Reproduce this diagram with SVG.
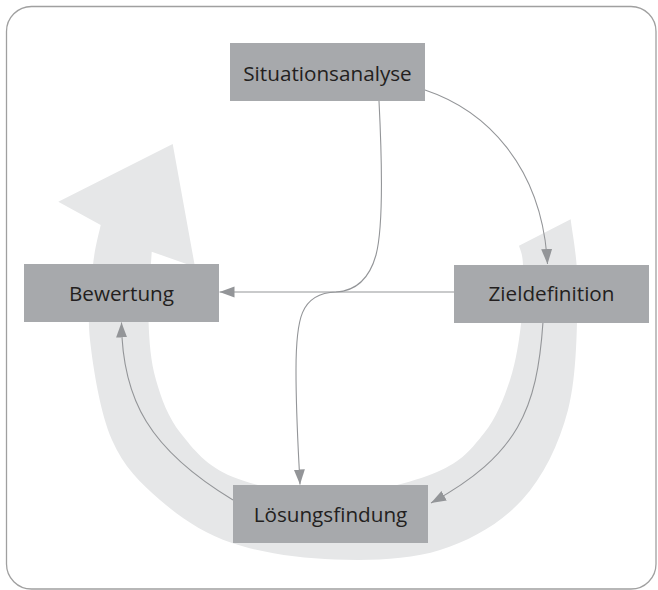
<svg xmlns="http://www.w3.org/2000/svg" width="658" height="590" viewBox="0 0 658 590">
  <style>
    .box { fill: #a7a9ac; }
    .lbl { font-family: "Open Sans", "Noto Sans", "Liberation Sans", sans-serif; font-size: 20.7px; fill: #231f20; text-anchor: middle; }
    .con { fill: none; stroke: #939598; stroke-width: 1.1; }
  </style>
  <defs>
    <marker id="arr" markerUnits="userSpaceOnUse" markerWidth="16" markerHeight="12" refX="15" refY="5.5" orient="auto">
      <path d="M0,0 L15,5.5 L0,11 Z" fill="#939598"/>
    </marker>
  </defs>
  <rect x="6.5" y="6.5" width="649.5" height="582.5" rx="25" ry="25" fill="#ffffff" stroke="#a0a0a0" stroke-width="1.3"/>

  <path id="cycle" fill="#e6e7e8" d="M570.7,219.3
    C571.8,231.1 577.95,258.2 577.5,290
    C577.05,321.8 577.25,375 568,410
    C558.75,445 543.3,476.7 522,500
    C500.7,523.3 471.2,540.1 440,550
    C408.8,559.9 369.7,560.7 335,559.5
    C300.3,558.3 261.2,552.9 232,543
    C202.8,533.1 180,517.2 160,500
    C140,482.8 123.7,466.7 112,440
    C100.3,413.3 93.2,368.9 90,340
    C86.8,311.1 91,285.9 92.8,266.7
    C94.6,247.5 99.4,232 100.7,225
    L58.3,201.7 L172.7,144 L195,267 L151.7,251.7
    C151.2,263.1 147.8,298.6 148.5,320
    C149.2,341.4 150.6,361.1 156,380
    C161.4,398.9 168,417.2 180.7,433.3
    C193.4,449.4 206.7,466.4 232.4,476.7
    C258.1,487 300.9,495.8 335,495
    C369.1,494.2 412.2,482.3 437,472
    C461.8,461.7 471.8,448.6 484,433.3
    C496.2,418 503.75,398.9 510,380
    C516.25,361.1 519.3,339.2 521.5,320
    C523.7,300.8 523.4,277.4 523,265
    C522.6,252.6 519.7,248.9 519,245.7 Z"/>

  <g id="connectors">
    <path class="con" d="M425,90 C485,110 542,165 547.5,264" marker-end="url(#arr)"/>
    <path class="con" d="M454,292 L219.5,292" marker-end="url(#arr)"/>
    <path class="con" d="M379,101 C382,160 384,225 376,255 C369,280 355,291 336,292 C300,293 296,320 296,370 C296,420 299,460 300,484.5" marker-end="url(#arr)"/>
    <path class="con" d="M543,322 C537,410 518,455 431,503" marker-end="url(#arr)"/>
    <path class="con" d="M233,500 C150,450 122,400 121.5,322.5" marker-end="url(#arr)"/>
  </g>

  <g id="situationsanalyse">
    <rect class="box" x="230" y="43" width="195" height="58"/>
    <text class="lbl" x="327.5" y="80.5">Situationsanalyse</text>
  </g>
  <g id="zieldefinition">
    <rect class="box" x="454" y="265" width="195" height="58"/>
    <text class="lbl" x="551.5" y="301">Zieldefinition</text>
  </g>
  <g id="bewertung">
    <rect class="box" x="24" y="264" width="195" height="58"/>
    <text class="lbl" x="121.5" y="300.5">Bewertung</text>
  </g>
  <g id="loesungsfindung">
    <rect class="box" x="233" y="485" width="195" height="58"/>
    <text class="lbl" x="330.5" y="521.5">Lösungsfindung</text>
  </g>
</svg>
